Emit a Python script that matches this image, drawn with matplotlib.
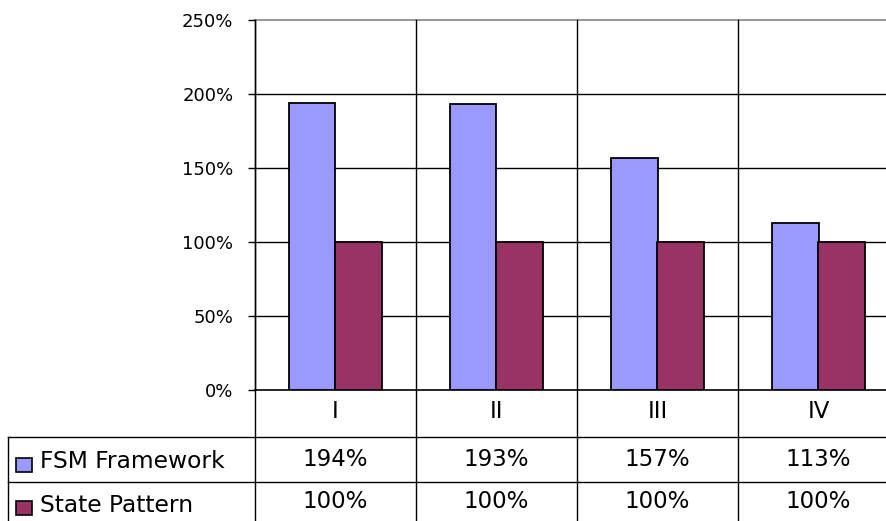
import matplotlib.pyplot as plt
from matplotlib.patches import Rectangle
from matplotlib.transforms import blended_transform_factory

plt.rcParams['font.family'] = ['DejaVu Sans']

categories = ['I', 'II', 'III', 'IV']
series_names = ['FSM Framework', 'State Pattern']
fsm = [1.94, 1.93, 1.57, 1.13]
state = [1.00, 1.00, 1.00, 1.00]
colors = ['#9999FF', '#993366']
yticks = [0, 0.5, 1.0, 1.5, 2.0, 2.5]

W, H = 887, 521
fig = plt.figure(figsize=(W / 100, H / 100), dpi=100)

# plot area in pixels: x 255..899 (runs past the right edge), y 20..390
ax = fig.add_axes([255 / W, (H - 390) / H, 644 / W, 370 / H])
ax.set_xlim(0, len(categories))
ax.set_ylim(0, 2.5)

bw = 0.29
xs = [i + 0.5 for i in range(len(categories))]
for vals, off, c in [(fsm, -bw / 2, colors[0]), (state, bw / 2, colors[1])]:
    ax.bar([x + off for x in xs], vals, width=bw, color=c,
           edgecolor='black', linewidth=1.3, zorder=3)

for y in yticks[:-1]:
    ax.axhline(y, color='black', lw=1.2 if y == 0 else 1, zorder=1, clip_on=False)
ax.axhline(2.5, color='#999999', lw=1.5, zorder=1, clip_on=False)

for s in ['top', 'right', 'bottom']:
    ax.spines[s].set_visible(False)
ax.spines['left'].set_linewidth(1)
ax.set_xticks([])
ax.set_yticks(yticks)
ax.set_yticklabels([f'{int(round(v * 100))}%' for v in yticks], fontsize=13)
ax.tick_params(axis='y', length=5, width=1, pad=10.5)

# data table below the plot
tr = blended_transform_factory(ax.transData, fig.transFigure)
fy = lambda py: (H - py) / H

for i in range(len(categories) + 1):
    ax.plot([i, i], [fy(20), fy(H + 5)], transform=tr, color='black',
            lw=1, clip_on=False, zorder=2)

fig.add_artist(plt.Line2D([8 / W, 1], [fy(436.5), fy(436.5)], color='black', lw=1))
fig.add_artist(plt.Line2D([8 / W, 1], [fy(482), fy(482)], color='black', lw=1))
fig.add_artist(plt.Line2D([8 / W, 8 / W], [fy(436.5), 0], color='black', lw=1))

for i, c in enumerate(categories):
    ax.text(xs[i], fy(412), c, transform=tr, ha='center', va='center',
            fontsize=16.5)

rows = [fsm, state]
row_y = [459, 502]
for r, vals in enumerate(rows):
    for i, v in enumerate(vals):
        ax.text(xs[i], fy(row_y[r]), f'{int(round(v * 100))}%', transform=tr,
                ha='center', va='center', fontsize=16.5)
    fig.add_artist(Rectangle((16 / W, fy(row_y[r] + 13)), 16 / W, 14 / H,
                             facecolor=colors[r], edgecolor='black', lw=1.2,
                             transform=fig.transFigure))
    fig.text(40 / W, fy(row_y[r] + 3), series_names[r], ha='left', va='center',
             fontsize=16.8)

fig.savefig('out.png', dpi=100)
